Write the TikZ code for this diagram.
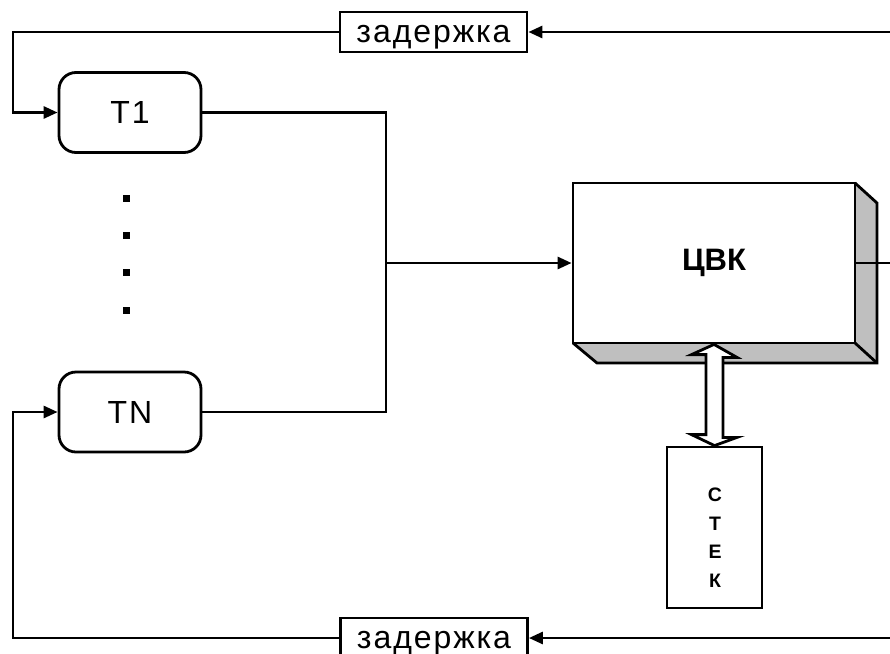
\documentclass[tikz,border=0pt]{standalone}
\usepackage{fontspec}
\setmainfont{Liberation Sans}
\usetikzlibrary{arrows.meta}
\tikzset{
  ln/.style={line width=2.8pt},
  arr/.style={ln,-{Triangle[length=14pt,width=12pt]}},
  lbl/.style={font=\fontsize{32}{38}\selectfont\addfontfeatures{LetterSpace=6}},
  delaybox/.style={draw,ln,fill=white,minimum width=187pt,minimum height=40pt,inner sep=0pt,lbl,text height=20pt,text depth=0pt},
  tbox/.style={draw,ln,rounded corners=17pt,minimum width=142pt,minimum height=80pt,inner sep=0pt,lbl},
  dotsq/.style={fill=black,minimum size=7pt,inner sep=0pt},
}
\begin{document}
\begin{tikzpicture}[x=1pt,y=-1pt]
\useasboundingbox (0,0) rectangle (890,653);
% delays
\node[delaybox] (dtop) at (433.5,32) {задержка};
\node[delaybox] (dbot) at (434,638) {задержка};
% terminals
\node[tbox] (t1) at (130,112.5) {T1};
\node[tbox] (tn) at (130,412) {TN};
% dots
\node[dotsq] (d1) at (126.5,198.5) {};
\node[dotsq] (d2) at (126.5,235.5) {};
\node[dotsq] (d3) at (126.5,272.5) {};
\node[dotsq] (d4) at (126.5,310.5) {};
% CVK shadow
\fill[black!25] (573,343) -- (597,363) -- (877,363) -- (877,203) -- (855,183) -- cycle;
\draw[ln,line join=miter] (573,343) -- (597,363) -- (877,363) -- (877,203) -- (855,183);
\draw[ln] (855,343) -- (877,363);
\node[draw,ln,fill=white,minimum width=282pt,minimum height=160pt,inner sep=0pt,
      font=\fontsize{31}{36}\selectfont\bfseries] (cvk) at (714,263) {ЦВК};
% stack
\node[draw,ln,fill=white,minimum width=95pt,minimum height=161pt,inner sep=0pt] (stk) at (714.5,527.5) {};
\node[inner sep=0pt,font=\fontsize{19.5}{28.5}\selectfont\bfseries,align=center] (stktxt) at (715,537.5) {С\\Т\\Е\\К};
% coordinates
\coordinate (rtop) at (890,32);
\coordinate (rbot) at (890,638);
\coordinate (rmid) at (890,263);
\coordinate (ltop) at (13,32);
\coordinate (lbot) at (13,638);
\coordinate (jn) at (386,263);
% connectors
\draw[arr] (rtop) -- (dtop.east);
\draw[arr] (dtop.west) -- (ltop) |- (t1.west);
\draw[arr] (rbot) -- (dbot.east);
\draw[arr] (dbot.west) -- (lbot) |- (tn.west);
\draw[ln] (t1.east) -| (jn);
\draw[ln] (tn.east) -| (jn);
\draw[arr] (jn) -- (cvk.west);
\draw[ln] (cvk.east) -- (rmid);
% double arrow
\draw[ln,fill=white,line join=miter]
  (cvk.south) -- ++(23,13) -- ++(-14,0) -- ++(0,80) -- ++(14,0)
  -- (stk.north) -- ++(-23,-11) -- ++(14.5,0) -- ++(0,-80) -- ++(-14.5,0) -- cycle;
\end{tikzpicture}
\end{document}
